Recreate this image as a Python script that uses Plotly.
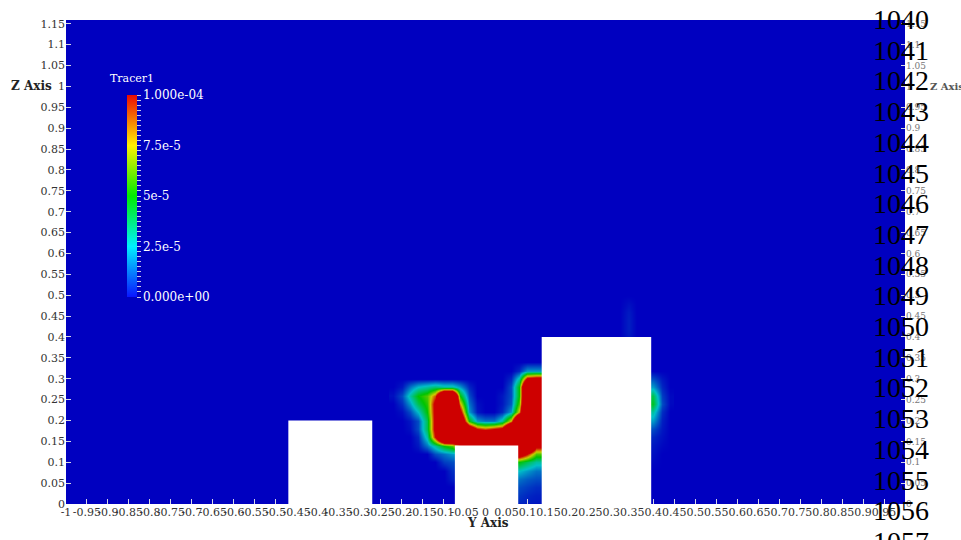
import plotly.graph_objects as go
import numpy as np

# ---------------- data ----------------
# cell centres of the tracer field (Y axis / Z axis)
y_cells = [-0.22, -0.20, -0.18, -0.16, -0.14, -0.12, -0.10, -0.08, -0.06, -0.04,
           -0.02, 0.00, 0.02, 0.04, 0.06, 0.08, 0.10, 0.12, 0.14, 0.16,
           0.18, 0.20, 0.22, 0.24, 0.26, 0.28, 0.30, 0.32, 0.34, 0.36,
           0.38, 0.40, 0.42, 0.44]
z_cells_top_down = [0.34, 0.32, 0.30, 0.28, 0.26, 0.24, 0.22, 0.20, 0.18,
                    0.16, 0.14, 0.12, 0.10, 0.08, 0.06, 0.04, 0.02, 0.00]

# Tracer1 values in units of 1e-5 (rows top -> bottom, columns left -> right)
Z0 = [0] * 11  # cells hidden inside the tall building
tracer_rows_e5 = [
    [0, 0, 0, 0, 0, 0, 0, 0, 0, 0, 0, 0, 0, 0, 0, 0, 0, 0, 0] + Z0 + [0, 0, 0, 0],
    [0, 0, 0, 0, 0, 0, 0, 0, 0, 0, 0, 0, 0, 0, 0, 0.5, 2, 2, 2] + Z0 + [0, 0, 0, 0],
    [0, 0, 0, 0, 0, 0, 0, 0, 0, 0, 0, 0, 0, 0, 0.5, 3, 11, 12, 12] + Z0 + [1, 1, 0.3, 0],
    [0, 0.3, 1.5, 2.5, 3, 3.5, 3, 3, 2, 0.5, 0, 0, 0, 0, 1, 5, 20, 20, 20] + Z0 + [2, 2, 0.5, 0],
    [0.2, 1, 3, 5, 6, 9, 20, 20, 5, 1, 0, 0, 0, 0.3, 1, 5, 20, 20, 20] + Z0 + [4, 4, 0.8, 0.1],
    [0, 0.6, 2, 4, 5.5, 11, 20, 20, 8, 1.5, 0.2, 0, 0, 0.3, 1.2, 6, 20, 20, 20] + Z0 + [4.5, 4.5, 1, 0.1],
    [0, 0.2, 1, 2.5, 5, 11, 20, 20, 11, 2, 0.3, 0, 0, 0.5, 2, 8, 20, 20, 20] + Z0 + [3, 3, 0.6, 0],
    [0, 0, 0.3, 1, 4, 11, 20, 20, 15, 5, 2, 1.5, 1.5, 3, 8, 20, 20, 20, 20] + Z0 + [2, 2, 0.4, 0],
    [0, 0, 0.2, 1, 4, 11, 20, 20, 20, 14, 10, 9, 10, 11, 20, 20, 20, 20, 20] + Z0 + [1, 1, 0.3, 0],
    [0, 0, 0, 0.5, 3, 10, 20, 20, 20, 20, 20, 20, 20, 20, 20, 20, 20, 20, 20] + Z0 + [0.5, 0.5, 0.2, 0],
    [0, 0, 0, 0.3, 1.5, 3, 5, 6, 9, 14, 20, 20, 20, 20, 20, 20, 20, 11, 11] + Z0 + [0.3, 0.3, 0.1, 0],
    [0, 0, 0, 0, 0, 1, 1.5, 2, 2, 2, 2, 5, 10, 13, 13, 13, 10, 6, 6] + Z0 + [0.2, 0.2, 0, 0],
    [0, 0, 0, 0, 0, 0, 0.8, 1, 1, 1, 1, 2, 4, 5, 5, 5, 4, 3, 3] + Z0 + [0.1, 0.1, 0, 0],
    [0, 0, 0, 0, 0, 0, 0, 0.6, 0.6, 0.6, 1, 1.5, 2, 2.5, 2.5, 2.5, 2, 1.5, 1.5] + Z0 + [0, 0, 0, 0],
    [0, 0, 0, 0, 0, 0, 0, 0.4, 0.4, 0.4, 0.6, 1, 1.2, 1.5, 1.5, 1.5, 1.2, 1, 1] + Z0 + [0, 0, 0, 0],
    [0, 0, 0, 0, 0, 0, 0, 0, 0, 0, 0.4, 0.6, 0.8, 1, 1, 1, 0.8, 0.6, 0.6] + Z0 + [0, 0, 0, 0],
    [0, 0, 0, 0, 0, 0, 0, 0, 0, 0, 0.3, 0.4, 0.6, 0.7, 0.7, 0.7, 0.5, 0.4, 0.4] + Z0 + [0, 0, 0, 0],
    [0, 0, 0, 0, 0, 0, 0, 0, 0, 0, 0.2, 0.3, 0.4, 0.5, 0.5, 0.5, 0.4, 0.3, 0.3] + Z0 + [0, 0, 0, 0],
]

# faint wisp above the tall building
wisp_y = [0.32, 0.34, 0.36]
wisp_z = [0.40, 0.42, 0.44, 0.46, 0.48, 0.50]
wisp_e5 = [
    [0, 0.3, 0],
    [0, 0.4, 0],
    [0, 0.4, 0],
    [0, 0.35, 0],
    [0, 0.2, 0],
    [0, 0, 0],
]

# buildings (white obstacles)
building_y0 = [-0.47, -0.073, 0.134]
building_y1 = [-0.27, 0.078, 0.395]
building_h = [0.20, 0.14, 0.40]

x_tick_labels = ["-1", "-0.95", "-0.9", "-0.85", "-0.8", "-0.75", "-0.7", "-0.65",
                 "-0.6", "-0.55", "-0.5", "-0.45", "-0.4", "-0.35", "-0.3", "-0.25",
                 "-0.2", "-0.15", "-0.1", "-0.05", "0", "0.05", "0.1", "0.15", "0.2",
                 "0.25", "0.3", "0.35", "0.4", "0.45", "0.5", "0.55", "0.6", "0.65",
                 "0.7", "0.75", "0.8", "0.85", "0.9", "0.95"]
z_tick_labels = ["0", "0.05", "0.1", "0.15", "0.2", "0.25", "0.3", "0.35", "0.4",
                 "0.45", "0.5", "0.55", "0.6", "0.65", "0.7", "0.75", "0.8", "0.85",
                 "0.9", "0.95", "1", "1.05", "1.1", "1.15"]
cbar_tick_vals = [0, 2.5e-5, 5e-5, 7.5e-5, 1e-4]
cbar_tick_labels = ["0.000e+00", "2.5e-5", "5e-5", "7.5e-5", "1.000e-04"]
line_numbers = [str(n) for n in range(1040, 1058)]

# ---------------- styling ----------------
SCALE = 1e-5
dark_scale = [[0, "rgb(0,0,192)"], [0.25, "rgb(0,192,200)"], [0.5, "rgb(0,196,0)"],
              [0.75, "rgb(206,206,0)"], [1, "rgb(206,0,0)"]]
bright_scale = [[0, "rgb(10,20,255)"], [0.25, "rgb(0,240,255)"], [0.5, "rgb(0,235,0)"],
                [0.75, "rgb(255,240,0)"], [1, "rgb(235,10,5)"]]
BG = "rgb(0,0,192)"
SERIF = "DejaVu Serif"

W, H = 961, 540
ML, MR, MT, MB = 66, 56, 20, 36
Z_TOP = 1.159

z_cells = z_cells_top_down[::-1]
tracer = np.array(tracer_rows_e5[::-1], dtype=float) * SCALE
wisp = np.array(wisp_e5, dtype=float) * SCALE

fig = go.Figure()
fig.add_trace(go.Heatmap(x=y_cells, y=z_cells, z=tracer, zmin=0, zmax=1e-4,
                         colorscale=dark_scale, zsmooth="best", showscale=False,
                         hoverinfo="skip"))
fig.add_trace(go.Heatmap(x=wisp_y, y=wisp_z, z=wisp, zmin=0, zmax=1e-4,
                         colorscale=dark_scale, zsmooth="best", showscale=False,
                         hoverinfo="skip"))

# colour legend (bright, like the scalar bar)
minor_vals = [i * 2.5e-6 for i in range(41)]
minor_text = []
for v in minor_vals:
    lab = ""
    for tv, tl in zip(cbar_tick_vals, cbar_tick_labels):
        if abs(v - tv) < 1e-9:
            lab = tl
    minor_text.append(lab)

fig.add_trace(go.Heatmap(x=[10, 11], y=[10], z=[[0, 1e-4]], zmin=0, zmax=1e-4,
                         colorscale=bright_scale, yaxis="y2", hoverinfo="skip",
                         colorbar=dict(
                             x=(127 - ML) / (W - ML - MR), xanchor="left", xpad=0,
                             y=(H - MB - 196) / (H - MT - MB), yanchor="middle", ypad=0,
                             lenmode="pixels", len=202, thickness=10,
                             outlinewidth=0, ticks="outside", ticklen=4,
                             tickcolor="rgba(225,225,235,0.9)", tickwidth=1,
                             tickvals=minor_vals, ticktext=minor_text,
                             tickfont=dict(family=SERIF, size=12, color="white"),
                         )))

for y0, y1, h in zip(building_y0, building_y1, building_h):
    fig.add_shape(type="rect", x0=y0, x1=y1, y0=0, y1=h, xref="x", yref="y",
                  fillcolor="white", line=dict(width=0), layer="above")

# white band above the plot (the picture is cropped there)
fig.add_shape(type="rect", xref="paper", yref="paper", x0=-0.2, x1=1.2,
              y0=1.0, y1=1.2, fillcolor="white", line=dict(width=0), layer="above")

tick_style = dict(ticks="inside", ticklen=5, tickcolor="rgba(215,215,230,1)",
                  showgrid=False, zeroline=False, showline=False, automargin=False)

fig.update_layout(
    width=W, height=H,
    margin=dict(l=ML, r=MR, t=MT, b=MB),
    paper_bgcolor="white", plot_bgcolor=BG,
    showlegend=False,
    xaxis=dict(range=[-1, 1], tickvals=[float(s) for s in x_tick_labels],
               ticktext=x_tick_labels, tickangle=0,
               tickfont=dict(family=SERIF, size=11, color="#333333"), **tick_style),
    yaxis=dict(range=[0, Z_TOP], tickvals=[float(s) for s in z_tick_labels],
               ticktext=z_tick_labels,
               tickfont=dict(family=SERIF, size=11, color="#333333"), **tick_style),
    yaxis2=dict(range=[0, Z_TOP], overlaying="y", side="right",
                tickvals=[float(s) for s in z_tick_labels], ticktext=z_tick_labels,
                tickfont=dict(family=SERIF, size=9, color="#777777"),
                ticks="inside", ticklen=4, tickcolor="rgba(215,215,230,1)",
                showgrid=False, zeroline=False, showline=False, automargin=False),
)

anns = []
anns.append(dict(text="<b>Z Axis</b>", xref="paper", yref="y", x=(54 - ML) / (W - ML - MR),
                 y=1.0, xanchor="right", yanchor="middle", showarrow=False,
                 font=dict(family=SERIF, size=12, color="#222222")))
anns.append(dict(text="<b>Z Axis</b>", xref="paper", yref="y", x=(928 - ML) / (W - ML - MR),
                 y=1.0, xanchor="left", yanchor="middle", showarrow=False,
                 font=dict(family=SERIF, size=10, color="#555555")))
anns.append(dict(text="<b>Y Axis</b>", xref="x", yref="paper", x=0.005,
                 y=(H - MB - 523) / (H - MT - MB), xanchor="center", yanchor="middle",
                 showarrow=False, font=dict(family=SERIF, size=12, color="#222222")))
anns.append(dict(text="Tracer1", xref="paper", yref="paper", x=(108 - ML) / (W - ML - MR),
                 y=(H - MB - 78) / (H - MT - MB), xanchor="left", yanchor="middle",
                 showarrow=False, font=dict(family=SERIF, size=11, color="white")))
for i, ln in enumerate(line_numbers):
    py = 19.5 + 30.7 * i
    anns.append(dict(text=ln, xref="paper", yref="paper", x=(901 - ML) / (W - ML - MR),
                     y=(H - MB - py) / (H - MT - MB), xanchor="center", yanchor="middle",
                     showarrow=False,
                     font=dict(family="Liberation Serif", size=28, color="black")))
fig.update_layout(annotations=anns)

fig.write_html("out.html", config={"displayModeBar": False},
               post_script="document.body.style.margin='0';")
